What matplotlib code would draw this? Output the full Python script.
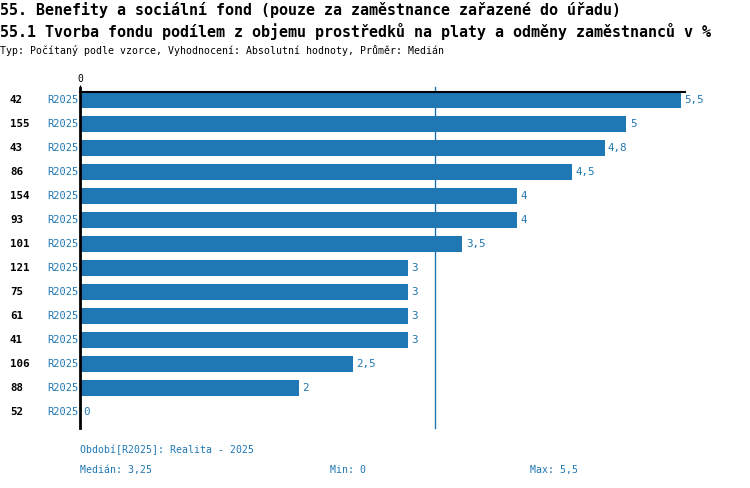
import matplotlib
matplotlib.use("Agg")
import matplotlib.pyplot as plt

ids = ["42", "155", "43", "86", "154", "93", "101", "121", "75", "61", "41", "106", "88", "52"]
periods = ["R2025"] * 14
values = [5.5, 5, 4.8, 4.5, 4, 4, 3.5, 3, 3, 3, 3, 2.5, 2, 0]
median_val = 3.25
min_val = 0
max_val = 5.5

title1 = "55. Benefity a sociální fond (pouze za zaměstnance zařazené do úřadu)"
title2 = "55.1 Tvorba fondu podílem z objemu prostředků na platy a odměny zaměstnanců v %"
subtitle = "Typ: Počítaný podle vzorce, Vyhodnocení: Absolutní hodnoty, Průměr: Medián"
footer1 = "Období[R2025]: Realita - 2025"

def fmt(v):
    return ("%g" % v).replace(".", ",")

BLUE = "#1f77b4"
MONO = "DejaVu Sans Mono"
W, H = 750, 488

fig = plt.figure(figsize=(7.5, 4.88), dpi=100)
ax_l, ax_r, ax_t, ax_b = 80, 685, 92, 428
ax = fig.add_axes([ax_l / W, 1 - ax_b / H, (ax_r - ax_l) / W, (ax_b - ax_t) / H])

n = len(values)
ypos = list(range(n))
ax.barh(ypos, values, height=0.667, color=BLUE, zorder=2)
xmax = 5.5 * (ax_r - ax_l) / 601.0
ax.set_xlim(0, xmax)
ax.set_ylim(n - 0.333, -0.333)

for sp in ["right", "bottom"]:
    ax.spines[sp].set_visible(False)
ax.spines["top"].set_linewidth(1.5)
ax.spines["left"].set_linewidth(2)
ax.spines["left"].set_bounds(n - 0.333, -0.5)

ax.xaxis.tick_top()
ax.set_xticks([0])
ax.set_xticklabels(["0"], fontfamily=MONO, fontsize=7)
ax.tick_params(axis="x", length=5, width=1, pad=1)
ax.set_yticks([])

ax.axvline(median_val, color=BLUE, lw=1, ymin=0, ymax=1.015, clip_on=False, zorder=1)

for y, v, i, p in zip(ypos, values, ids, periods):
    ax.annotate(fmt(v), xy=(v, y), xytext=(2.5, 0), textcoords="offset points",
                color=BLUE, fontfamily=MONO, fontsize=7.8, va="center", ha="left")
    ax.annotate(i, xy=(10 / W, 1 - (100 + 24 * y) / H), xycoords="figure fraction",
                fontfamily=MONO, fontsize=7.8, fontweight="bold", va="center", ha="left")
    ax.annotate(p, xy=(78 / W, 1 - (100 + 24 * y) / H), xycoords="figure fraction",
                fontfamily=MONO, fontsize=7.5, color=BLUE, va="center", ha="right")

fig.text(0, 1 - 10 / H, title1, fontfamily=MONO, fontsize=10.8, fontweight="bold", va="center", ha="left")
fig.text(0, 1 - 31 / H, title2, fontfamily=MONO, fontsize=10.8, fontweight="bold", va="center", ha="left")
fig.text(0, 1 - 50 / H, subtitle, fontfamily=MONO, fontsize=7.1, va="center", ha="left")

fig.text(80 / W, 1 - 450 / H, footer1, fontfamily=MONO, fontsize=7.1, color=BLUE, va="center", ha="left")
fig.text(80 / W, 1 - 470 / H, "Medián: " + fmt(median_val), fontfamily=MONO, fontsize=7.1, color=BLUE, va="center", ha="left")
fig.text(330 / W, 1 - 470 / H, "Min: " + fmt(min_val), fontfamily=MONO, fontsize=7.1, color=BLUE, va="center", ha="left")
fig.text(530 / W, 1 - 470 / H, "Max: " + fmt(max_val), fontfamily=MONO, fontsize=7.1, color=BLUE, va="center", ha="left")

fig.savefig("out.png", dpi=100)
